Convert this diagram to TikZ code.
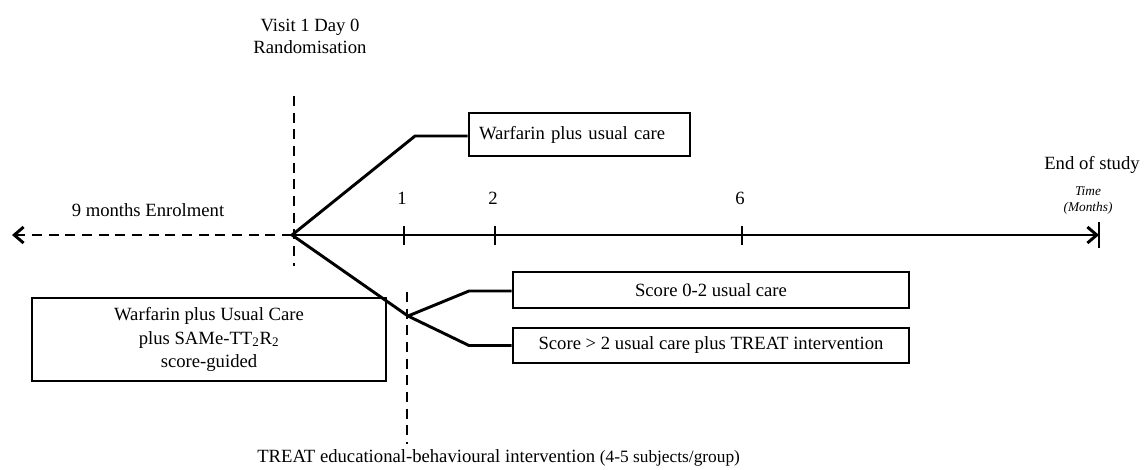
\documentclass[tikz,border=0pt]{standalone}
\usepackage{fontspec}
\setmainfont{Liberation Serif}
\usetikzlibrary{arrows.meta}
\begin{document}
\begin{tikzpicture}[x=0.75pt,y=-0.75pt,
  every node/.style={font=\fontsize{14}{17}\selectfont},
  thick line/.style={line width=2.2pt},
  dash line/.style={line width=2.2pt, dash pattern=on 7.5pt off 5pt},
  boxnode/.style={draw, line width=2.2pt, inner sep=0pt, minimum height=#1},
  boxnode/.default=36*0.75pt,
  lbl/.style={inner sep=0pt, align=center},
  tickmark/.style={line width=2.2pt},
  tip/.style={-{Straight Barb[length=7pt,width=12pt]}}
]
\useasboundingbox (0,0) rectangle (1145,469);

% labels
\node[lbl, font=\fontsize{14}{16.5}\selectfont] (visit) at (310,36) {Visit 1 Day 0\\Randomisation};
\node[lbl] (enrol) at (148,210) {9 months Enrolment};
\node[lbl] (eos) at (1092,165) {End of study};
\node[lbl, font=\itshape\fontsize{10}{12}\selectfont] (time) at (1088,191) {Time};
\node[lbl, font=\itshape\fontsize{10}{12}\selectfont] (months) at (1088,208) {(Months)};

% timeline
\coordinate (L) at (12,235);
\coordinate (O) at (292,235);
\coordinate (E) at (1099,235);
\draw[dash line, tip] (O) -- (L);
\draw[thick line, tip] (O) -- (E);
\coordinate (Et) at (1099,222);
\coordinate (Eb) at (1099,248);
\draw[tickmark] (Et) -- (Eb);

% ticks
\foreach \xx/\lab in {404/1,495/2,742/6}{
  \coordinate (t\lab a) at (\xx,226);
  \coordinate (t\lab b) at (\xx,245);
  \draw[tickmark] (t\lab a) -- (t\lab b);
  \node[lbl] (n\lab) at (\xx-2,198) {\lab};
}

% vertical dashed lines
\coordinate (V1a) at (294,96);
\coordinate (V1b) at (294,266);
\draw[dash line] (V1a) -- (V1b);
\coordinate (V2a) at (407,292);
\coordinate (V2b) at (407,444);
\draw[dash line] (V2a) -- (V2b);

% boxes
\node[boxnode=43*0.75pt, minimum width=221*0.75pt, text width=201*0.75pt, align=left, inner xsep=7.5pt] (w1) at (579.5,134.5) {Warfarin plus usual care};
\node[boxnode, minimum width=396*0.75pt] (s1) at (711,290) {Score 0-2 usual care};
\node[boxnode=35*0.75pt, minimum width=396*0.75pt] (s2) at (711,345.5) {Score > 2 usual care plus TREAT intervention};
\node[boxnode=83*0.75pt, minimum width=354*0.75pt, align=center, font=\fontsize{14}{17.5}\selectfont] (big) at (209,339.5) {Warfarin plus Usual Care\\plus SAMe-TT\textsubscript{2}R\textsubscript{2}\\score-guided};

% branches
\coordinate (B1) at (415,136);
\coordinate (J) at (408,316);
\coordinate (B2) at (469,291);
\coordinate (B3) at (469,345.5);
\draw[thick line] (O) -- (B1) -- (w1.west |- B1);
\draw[thick line] (O) -- (J);
\draw[thick line] (J) -- (B2) -- (s1.west |- B2);
\draw[thick line] (J) -- (B3) -- (s2.west |- B3);

% bottom label
\node[lbl, anchor=west] (treat) at (257,458) {TREAT educational-behavioural intervention {\fontsize{13}{15}\selectfont(4-5 subjects/group)}};
\end{tikzpicture}
\end{document}
